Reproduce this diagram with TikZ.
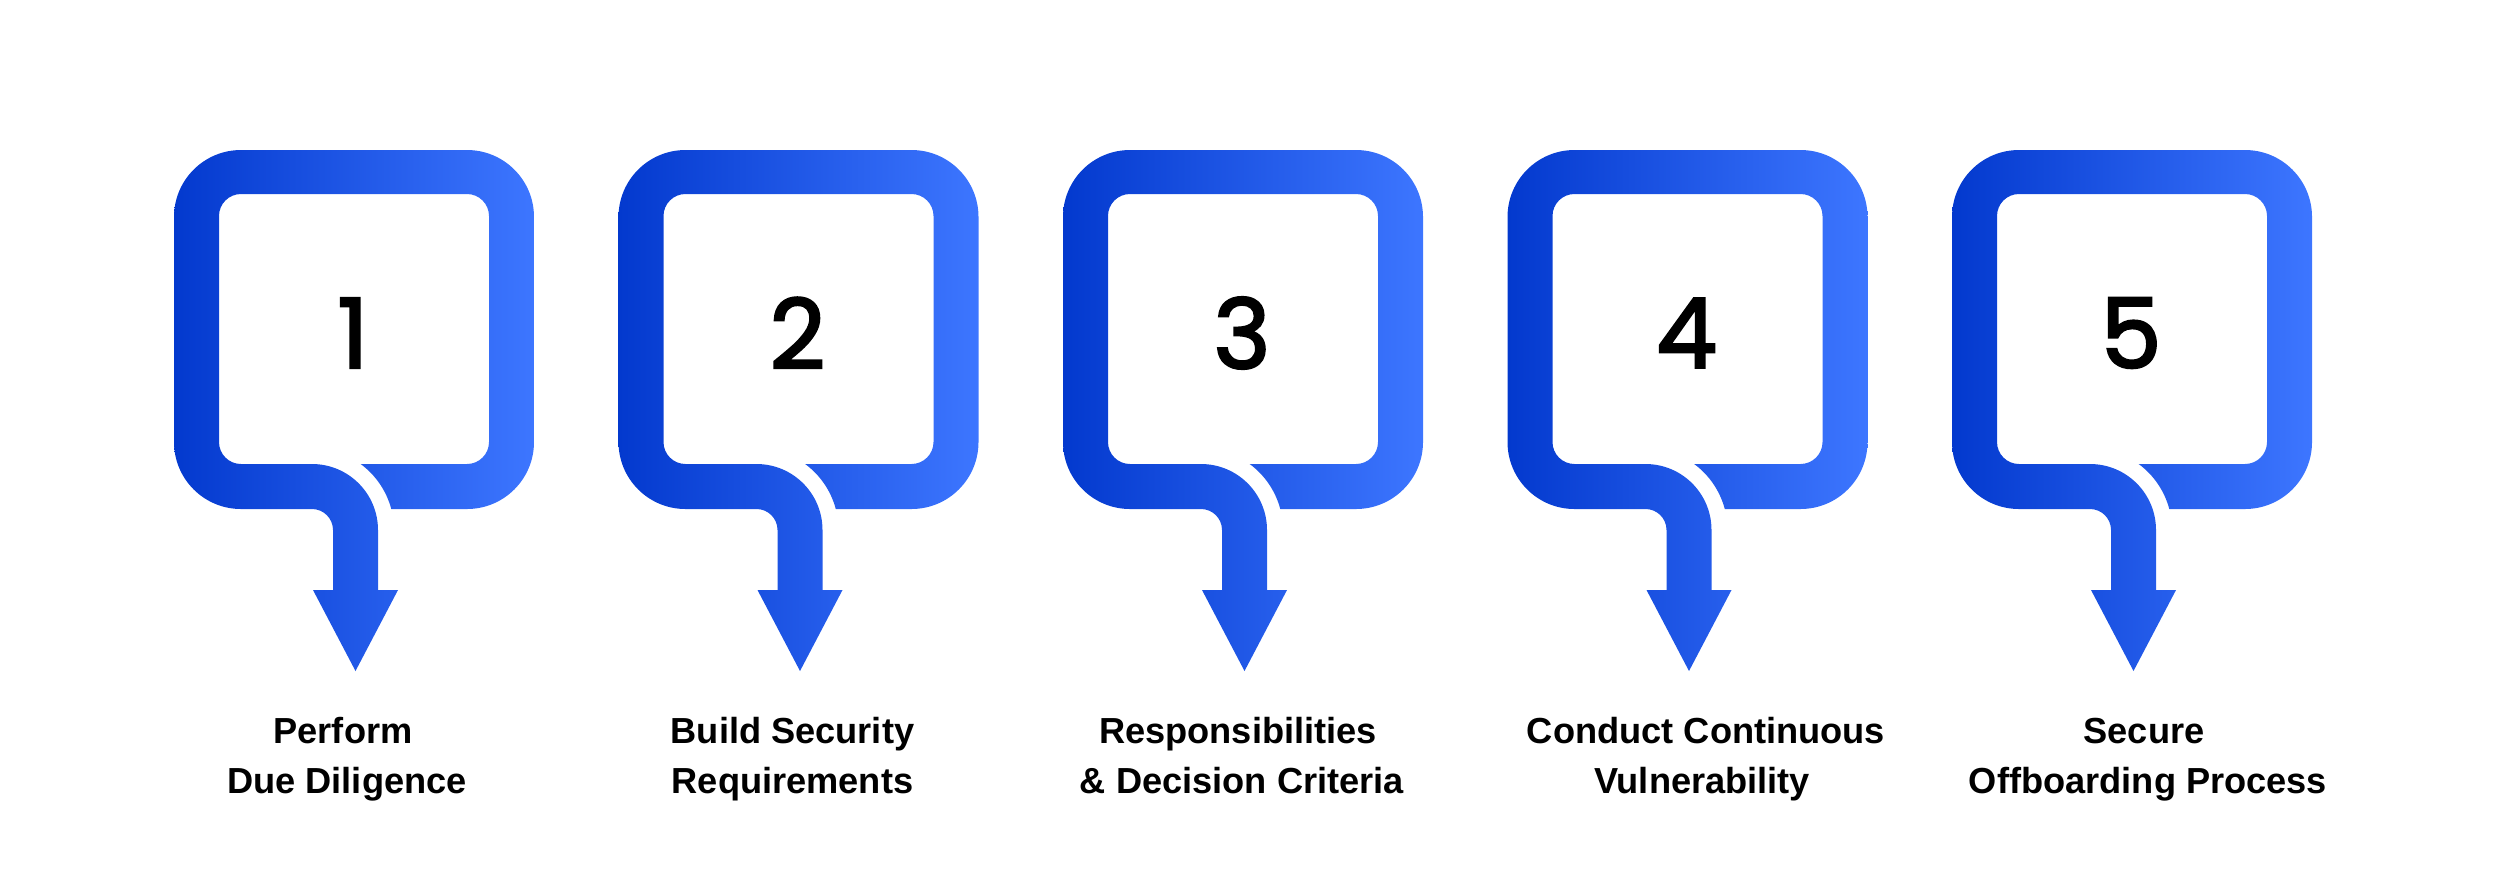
\documentclass[tikz,border=0pt]{standalone}
\usepackage{fontspec}
\setmainfont{Liberation Sans}
\newfontfamily\numfont{Poppins}[FakeBold=2.5]
\definecolor{blueL}{RGB}{3,57,206}
\definecolor{blueR}{RGB}{61,118,255}
\tikzset{
  bubblefill/.style={left color=blueL, right color=blueR, draw=none},
  numtext/.style={font=\numfont\fontsize{27.5}{30}\selectfont, inner sep=0pt, anchor=center, text=black},
  labeltext/.style={font=\bfseries\fontsize{10.3}{12.5}\selectfont, inner sep=0pt, anchor=base, text=black},
}
\begin{document}
\begin{tikzpicture}[x=0.01cm,y=-0.01cm]
\useasboundingbox (0,0) rectangle (2500,893);
\foreach \i/\n in {0/1,1/2,2/3,3/4,4/5}{
  \begin{scope}[shift={(174+444.5*\i,150)}]
    \shade[bubblefill]
      (181.5,521) -- (139,440) -- (159,440) -- (159,380)
      arc[start angle=0,end angle=-90,radius=21] -- (67,359)
      arc[start angle=90,end angle=180,radius=67] -- (0,67)
      arc[start angle=180,end angle=270,radius=67] -- (293,0)
      arc[start angle=270,end angle=360,radius=67] -- (360,292)
      arc[start angle=0,end angle=90,radius=67] -- (217.27,359)
      arc[start angle=-14.84,end angle=-53.6,radius=82] -- (293,314)
      arc[start angle=90,end angle=0,radius=22] -- (315,66)
      arc[start angle=0,end angle=-90,radius=22] -- (67,44)
      arc[start angle=-90,end angle=-180,radius=22] -- (45,292)
      arc[start angle=180,end angle=90,radius=22] -- (138,314)
      arc[start angle=-90,end angle=0,radius=66] -- (204,440) -- (224,440) -- cycle;
    \node[numtext] (num\n) at (179,183) {\n};
  \end{scope}
}
\node[labeltext] (l1a) at (343,743) {Perform};
\node[labeltext] (l1b) at (347,793) {Due Diligence};
\node[labeltext] (l2a) at (792.5,743) {Build Security};
\node[labeltext] (l2b) at (792.5,793) {Requirements};
\node[labeltext] (l3a) at (1238,743) {Responsibilities};
\node[labeltext] (l3b) at (1242,793) {\& Decision Criteria};
\node[labeltext] (l4a) at (1706,743) {Conduct Continuous};
\node[labeltext] (l4b) at (1702,793) {Vulnerability};
\node[labeltext] (l5a) at (2144,743) {Secure};
\node[labeltext] (l5b) at (2148,793) {Offboarding Process};
\end{tikzpicture}
\end{document}
